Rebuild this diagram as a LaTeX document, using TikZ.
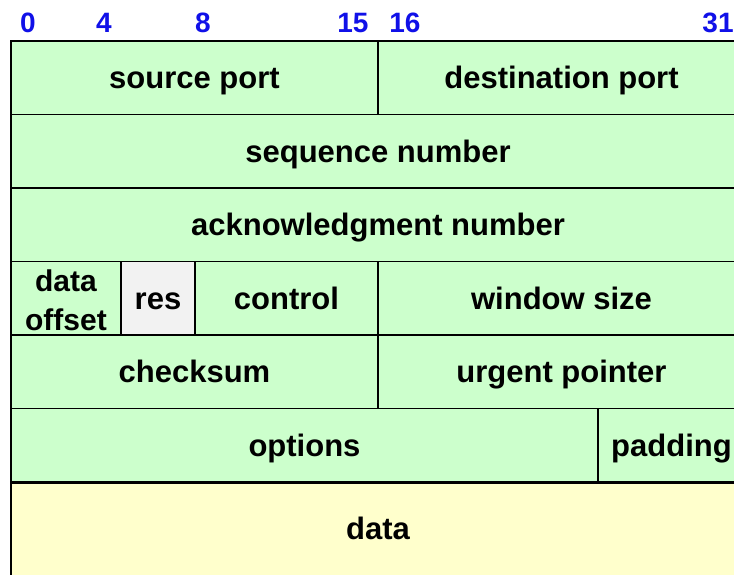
\documentclass[tikz,border=0pt]{standalone}
\usepackage{fontspec}
\setmainfont{Liberation Sans}
\definecolor{cellgreen}{HTML}{CCFFCC}
\definecolor{cellgray}{HTML}{F2F2F2}
\definecolor{cellyellow}{HTML}{FFFFCC}
\definecolor{bitblue}{HTML}{1010E8}
\begin{document}
\begin{tikzpicture}[x=1pt,y=-1pt,
  cell/.style={draw=black, line width=1.9pt, fill=cellgreen, inner sep=0pt,
    minimum height=73.5pt, font=\fontsize{31}{36}\selectfont\bfseries,
    align=center, text height=28pt, text depth=6.5pt},
  bitno/.style={text=bitblue, inner sep=0pt, font=\fontsize{28}{30}\selectfont\bfseries}]
\useasboundingbox (0,0) rectangle (734,574);
\clip (0,0) rectangle (734,574);
% row 1: ports
\node[cell, minimum width=367pt] (srcport) at (194.5,78) {source port};
\node[cell, minimum width=367pt] (dstport) at (561.5,78) {destination port};
% rows 2 and 3
\node[cell, minimum width=734pt] (seqno) at (378,151.25) {sequence number};
\node[cell, minimum width=734pt] (ackno) at (378,224.75) {acknowledgment number};
% row 4: offset, reserved bits, flags, window
\node[cell, minimum width=110pt] (offset) at (66,298.25) {};
\node[cell, minimum width=74pt, fill=cellgray] (res) at (158,298.25) {res};
\node[cell, minimum width=183pt] (control) at (286.5,298.25) {control};
\node[cell, minimum width=367pt] (window) at (561.5,298.25) {window size};
% row 5
\node[cell, minimum width=367pt] (checksum) at (194.5,371.75) {checksum};
\node[cell, minimum width=367pt] (urgent) at (561.5,371.75) {urgent pointer};
% row 6
\node[cell, minimum width=587pt] (options) at (304.5,445.25) {options};
\node[cell, minimum width=147pt] (padding) at (671.5,445.25) {padding};
% payload
\node[cell, minimum width=734pt, minimum height=120pt, fill=cellyellow,
  anchor=north] (data) at (378,482.5) {};
\node[cell, draw=none, fill=none] (datalabel) at (378,528.5) {data};
% two-line label of the offset field, set over the borders
\node[cell, draw=none, fill=none, font=\fontsize{30}{39}\selectfont\bfseries,
  text height=, text depth=] (offsetlabel) at (66,300.5) {data\\offset};
% bit positions
\node[bitno] (b0) at (28,23) {0};
\node[bitno] (b4) at (104,23) {4};
\node[bitno] (b8) at (203,23) {8};
\node[bitno] (b15) at (353,23) {15};
\node[bitno] (b16) at (405,23) {16};
\node[bitno] (b31) at (718,23) {31};
\end{tikzpicture}
\end{document}
